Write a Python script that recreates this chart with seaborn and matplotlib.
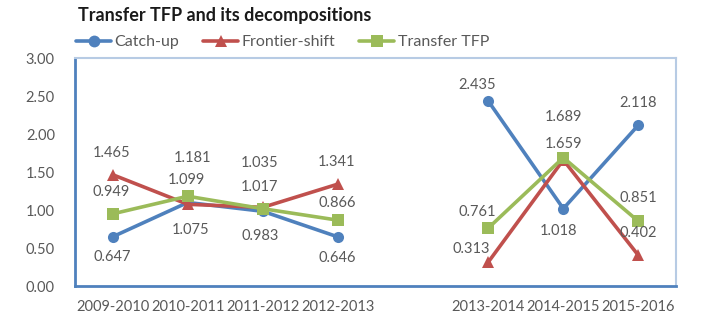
import matplotlib
matplotlib.use("Agg")
import matplotlib.pyplot as plt
import seaborn as sns
import pandas as pd
import numpy as np

# ---- data ----
categories = ["2009-2010", "2010-2011", "2011-2012", "2012-2013", "",
              "2013-2014", "2014-2015", "2015-2016"]
catch_up = [0.647, 1.099, 0.983, 0.646, None, 2.435, 1.018, 2.118]
frontier_shift = [1.465, 1.075, 1.035, 1.341, None, 0.313, 1.659, 0.402]
transfer_tfp = [0.949, 1.181, 1.017, 0.866, None, 0.761, 1.689, 0.851]
series_names = ["Catch-up", "Frontier-shift", "Transfer TFP"]
title = "Transfer TFP and its decompositions"

# ---- styles ----
colors = {"Catch-up": "#4F81BD", "Frontier-shift": "#C0504D", "Transfer TFP": "#9BBB59"}
markers = {"Catch-up": "o", "Frontier-shift": "^", "Transfer TFP": "s"}
label_offsets = {
    "Catch-up": [(0, -20), (-1, 22), (-3, -25), (-1, -21), None, (-11, 16), (-5, -22), (0, 22)],
    "Frontier-shift": [(-1, 22), (3, -26), (-3, 44), (-1, 22), None, (-17, 13), (0, 16), (0, 22)],
    "Transfer TFP": [(-1, 22), (5, 38), (-3, 22), (-1, 17), None, (-11, 16), (0, 41), (0, 23)],
}
text_color = "#595959"
font = ["Lato", "DejaVu Sans"]

# ---- table ----
rows = []
for name, vals in zip(series_names, [catch_up, frontier_shift, transfer_tfp]):
    segment = 0
    for i, v in enumerate(vals):
        if v is None:
            segment += 1
            continue
        rows.append({"series": name, "pos": i, "value": v, "segment": segment})
df = pd.DataFrame(rows)

sns.set_theme(style="white")
plt.rcParams["font.family"] = font

fig = plt.figure(figsize=(7.18, 3.26), dpi=100)
ax = fig.add_axes([75 / 718, 40 / 326, (676 - 75) / 718, (286 - 58) / 326])

sns.lineplot(data=df, x="pos", y="value", hue="series", style="series",
             units="segment", estimator=None, palette=colors, markers=markers,
             dashes=False, linewidth=2.6, markersize=8, markeredgewidth=0,
             ax=ax, legend=False, hue_order=series_names, style_order=series_names)

# data labels
for name, vals in zip(series_names, [catch_up, frontier_shift, transfer_tfp]):
    for i, v in enumerate(vals):
        if v is None:
            continue
        dx, dy = label_offsets[name][i]
        ax.annotate(f"{v:.3f}", xy=(i, v), xytext=(dx, dy), textcoords="offset pixels",
                    ha="center", va="center", fontsize=10.5, color=text_color)

ax.set_xlim(-0.5, len(categories) - 0.5)
ax.set_ylim(0, 3)
ax.set_yticks(np.arange(0, 3.01, 0.5))
ax.set_yticklabels([f"{t:.2f}" for t in np.arange(0, 3.01, 0.5)])
ax.set_xticks(np.arange(-0.5, len(categories), 1.0))
ax.set_xticklabels([])
ax.set_xticks(np.arange(len(categories)), minor=True)
ax.set_xticklabels(categories, minor=True)
ax.tick_params(axis="x", which="major", length=4, width=1.2, color="#4F81BD", direction="out")
ax.tick_params(axis="x", which="minor", length=0, pad=10, labelsize=10.5, labelcolor=text_color)
ax.tick_params(axis="y", length=0, pad=14.5, labelsize=10.5, labelcolor=text_color)
ax.set_xlabel("")
ax.set_ylabel("")

for s in ["left", "bottom"]:
    ax.spines[s].set_color("#4F81BD")
    ax.spines[s].set_linewidth(2)
for s in ["top", "right"]:
    ax.spines[s].set_color("#B7CBE4")
    ax.spines[s].set_linewidth(1.5)
ax.grid(False)

# legend
handles = [plt.Line2D([], [], color=colors[n], marker=markers[n], linewidth=2.6,
                      markersize=8.5, markeredgewidth=0) for n in series_names]
fig.legend(handles, series_names, loc="upper left", bbox_to_anchor=(76 / 718, 1 - 35 / 326),
           ncol=3, frameon=False, fontsize=11.5, labelcolor=text_color,
           handlelength=2.2, handletextpad=0.2, columnspacing=1.5, borderaxespad=0,
           borderpad=0)

fig.text(78 / 718, 1 - 15 / 326, title, ha="left", va="center", fontsize=13,
         fontweight="bold", color="#1a1a1a")

fig.savefig("out.png", dpi=100)
